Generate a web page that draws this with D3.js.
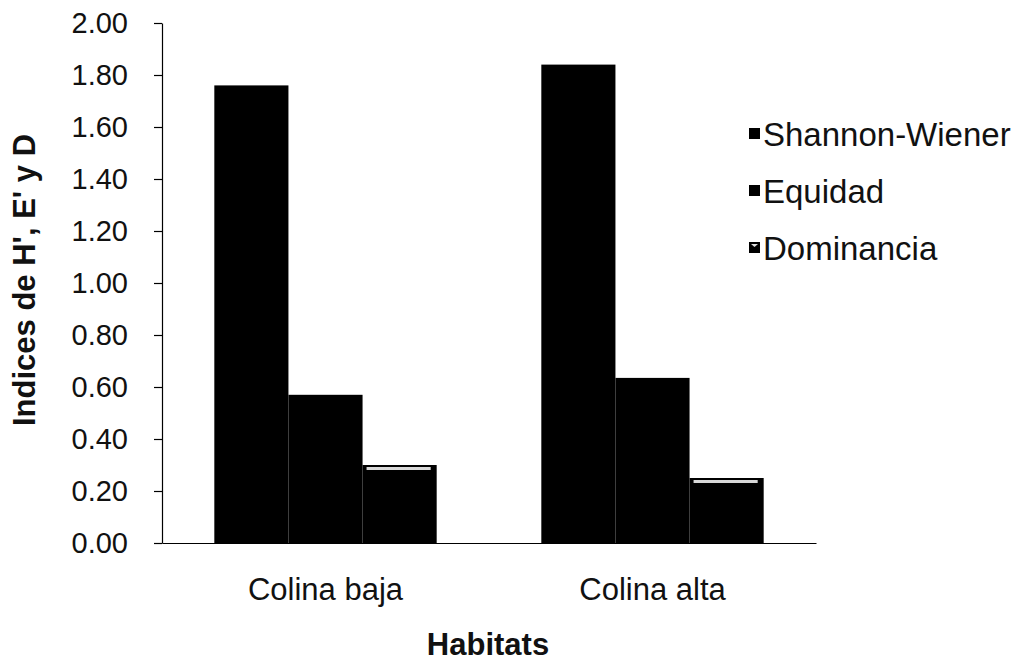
<!DOCTYPE html>
<html>
<head>
<meta charset="utf-8">
<script src="https://cdn.jsdelivr.net/npm/d3@7"></script>
<style>
  html, body { margin: 0; padding: 0; background: #fff; }
  svg { display: block; font-family: "Liberation Sans", Arial, sans-serif; }
</style>
</head>
<body>
<svg id="chart" width="1026" height="661"></svg>
<script>
// Diversity indices per habitat
const habitats = ["Colina baja", "Colina alta"];
const seriesNames = ["Shannon-Wiener", "Equidad", "Dominancia"];
const shannon = [1.76, 1.84];
const equidad = [0.57, 0.635];
const dominancia = [0.30, 0.25];
const yTicks = [0, 0.2, 0.4, 0.6, 0.8, 1.0, 1.2, 1.4, 1.6, 1.8, 2.0];

const seriesValues = [shannon, equidad, dominancia];

const svg = d3.select("#chart");
const plotLeft = 162, plotRight = 816, plotTop = 23, plotBottom = 543;

const x0 = d3.scaleBand().domain(habitats).range([plotLeft, plotRight]).paddingInner(0.32).paddingOuter(0.16);
const x1 = d3.scaleBand().domain(seriesNames).range([0, x0.bandwidth()]).padding(0);
const y = d3.scaleLinear().domain([0, 2]).range([plotBottom, plotTop]);

// bars
const rows = [];
habitats.forEach((h, i) => {
  seriesNames.forEach((s, j) => rows.push({ h, s, v: seriesValues[j][i] }));
});

const bars = svg.append("g");
bars.selectAll("rect.bar")
  .data(rows)
  .join("rect")
  .attr("class", "bar")
  .attr("x", d => x0(d.h) + x1(d.s))
  .attr("y", d => y(d.v))
  .attr("width", x1.bandwidth())
  .attr("height", d => y(0) - y(d.v))
  .attr("fill", "#000");

// light highlight band near the top of the Dominancia bars
bars.selectAll("rect.hl")
  .data(rows.filter(d => d.s === "Dominancia"))
  .join("rect")
  .attr("class", "hl")
  .attr("x", d => x0(d.h) + x1(d.s) + 4)
  .attr("y", d => y(d.v) + 2)
  .attr("width", x1.bandwidth() - 10)
  .attr("height", 3)
  .attr("fill", "#d8d8d8");

// y axis
const yAxis = d3.axisLeft(y).tickValues(yTicks).tickFormat(d3.format(".2f")).tickSize(8).tickSizeOuter(0);
const gy = svg.append("g").attr("transform", `translate(${plotLeft},0)`).call(yAxis);
gy.select(".domain").attr("stroke", "#000").attr("stroke-width", 1.2);
gy.selectAll(".tick line").attr("stroke", "#000").attr("stroke-width", 1.2);
gy.selectAll(".tick text")
  .attr("x", -34)
  .attr("font-size", 29)
  .attr("fill", "#111")
  .attr("font-family", "'Liberation Sans', Arial, sans-serif");

// x axis
const xAxis = d3.axisBottom(x0).tickSize(0).tickSizeOuter(0);
const gx = svg.append("g").attr("transform", `translate(0,${plotBottom})`).call(xAxis);
gx.select(".domain").attr("stroke", "#000").attr("stroke-width", 1.2);
gx.selectAll(".tick text")
  .attr("y", 35)
  .attr("font-size", 31)
  .attr("fill", "#111")
  .attr("font-family", "'Liberation Sans', Arial, sans-serif");

// axis titles
svg.append("text")
  .attr("x", 488).attr("y", 655)
  .attr("text-anchor", "middle")
  .attr("font-size", 31).attr("font-weight", "bold").attr("fill", "#111")
  .text("Habitats");

svg.append("text")
  .attr("transform", "translate(35,280) rotate(-90)")
  .attr("text-anchor", "middle")
  .attr("font-size", 31).attr("font-weight", "bold").attr("fill", "#111")
  .text("Indices de H', E' y D");

// legend
const legend = svg.append("g").attr("transform", "translate(749,146)");
const li = legend.selectAll("g").data(seriesNames).join("g")
  .attr("transform", (d, i) => `translate(0,${i * 57})`);
li.append("rect").attr("x", 0).attr("y", -18).attr("width", 11).attr("height", 11).attr("fill", "#000");
li.filter(d => d === "Dominancia").append("path")
  .attr("d", "M2,-16 L5.5,-13 L9,-16 Z").attr("fill", "#ddd");
li.append("text")
  .attr("x", 14).attr("y", 0)
  .attr("font-size", 33).attr("fill", "#111")
  .text(d => d);
</script>
</body>
</html>
